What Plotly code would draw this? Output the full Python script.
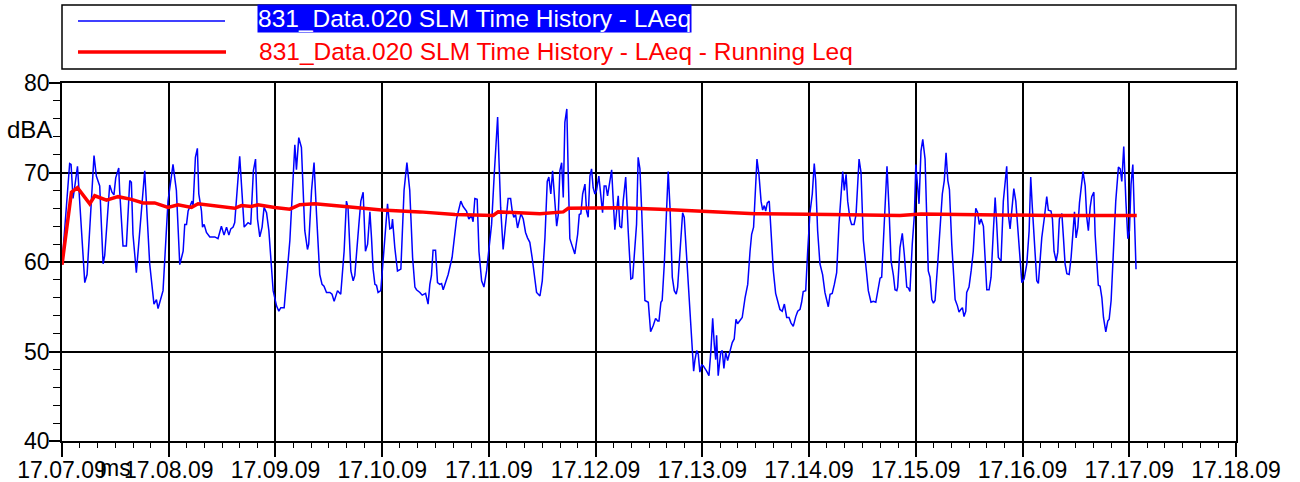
import plotly.graph_objects as go

# ---------------- data ----------------
tick_seconds = [0, 60, 120, 180, 240, 300, 360, 420, 480, 540, 600, 660]
tick_labels = ["17.07.09", "17.08.09", "17.09.09", "17.10.09", "17.11.09", "17.12.09",
               "17.13.09", "17.14.09", "17.15.09", "17.16.09", "17.17.09", "17.18.09"]
y_ticks = [40, 50, 60, 70, 80]
y_labels = ["40", "50", "60", "70", "80"]

series_names = ["831_Data.020 SLM Time History - LAeq",
                "831_Data.020 SLM Time History - LAeq - Running Leq"]
y_unit = "dBA"
x_unit = "ms"

# seconds after 17:07:09
laeq_t = [
    0.0, 4.3, 5.1, 6.2, 7.1, 8.7, 12.8, 14.1, 18.0, 19.3,
    21.2, 23.1, 24.0, 26.8, 28.1, 29.2, 30.2, 31.9, 32.4, 34.3,
    36.2, 38.1, 39.0, 39.9, 41.8, 46.5, 49.3, 51.7, 53.1, 54.0,
    56.8, 59.6, 62.4, 64.3, 66.2, 68.1, 69.0, 70.0, 70.9, 72.4,
    73.1, 73.7, 75.0, 76.1, 76.9, 78.4, 79.0, 79.9, 81.2, 83.1,
    85.9, 87.7, 89.6, 91.1, 92.5, 93.8, 94.9, 96.2, 97.1, 99.9,
    102.4, 103.7, 104.6, 106.1, 107.6, 108.8, 109.9, 111.2, 112.5, 113.6,
    115.0, 116.3, 118.7, 120.6, 121.9, 123.0, 124.9, 128.1, 130.9, 131.8,
    133.1, 134.6, 136.5, 138.0, 138.7, 140.3, 141.7, 143.1, 144.9, 146.2,
    147.3, 148.7, 150.6, 151.8, 153.0, 154.9, 156.7, 158.6, 159.9, 160.8,
    162.4, 163.7, 164.6, 166.9, 168.0, 169.3, 170.6, 171.8, 173.1, 174.0,
    174.9, 175.9, 176.8, 177.7, 179.2, 180.5, 181.5, 183.0, 184.3, 185.3,
    185.8, 187.1, 188.6, 190.5, 192.3, 193.9, 195.5, 197.1, 198.4, 199.3,
    201.2, 202.5, 204.4, 205.8, 206.8, 207.7, 208.6, 210.0, 211.1, 212.4,
    213.4, 214.3, 217.1, 219.3, 221.8, 223.1, 224.2, 225.5, 227.4, 228.7,
    230.2, 231.1, 232.1, 233.4, 234.4, 235.9, 237.2, 238.7, 240.0, 241.5,
    243.0, 244.9, 245.6, 246.6, 248.0, 249.4, 250.8, 252.2, 253.1, 254.0,
    255.0, 256.1, 256.8, 258.0, 259.3, 260.6, 261.7, 263.0, 264.3, 265.5,
    266.8, 268.7, 270.0, 271.5, 272.8, 273.7, 274.8, 275.8, 277.1, 278.1,
    279.0, 279.9, 280.9, 281.8, 282.7, 283.8, 284.6, 285.5, 286.8, 288.3,
    289.9, 290.8, 291.7, 292.7, 294.0, 294.9, 295.8, 296.8, 297.7, 298.6,
    299.6, 300.5, 301.8, 303.0, 303.9, 304.8, 305.8, 306.7, 308.0, 309.0,
    309.9, 310.8, 311.8, 312.7, 313.6, 314.6, 315.5, 316.9, 318.3, 319.8,
    320.8, 322.1, 323.0, 323.9, 324.9, 325.9, 326.8, 327.7, 329.6, 330.9,
    332.4, 333.7, 334.9, 335.6, 336.7, 337.4, 338.6, 339.5, 340.8, 341.8,
    343.1, 344.2, 345.3, 346.1, 347.0, 348.0, 348.9, 349.8, 351.2, 353.0,
    354.3, 355.1, 355.8, 356.8, 357.7, 358.6, 359.6, 360.5, 362.4, 363.7,
    364.8, 365.8, 366.7, 367.5, 368.0, 368.9, 370.3, 371.2, 372.1, 373.1,
    374.2, 375.5, 376.8, 377.9, 378.9, 379.8, 381.1, 382.4, 384.0, 385.5,
    386.8, 387.7, 388.8, 389.6, 390.7, 391.8, 393.0, 393.9, 394.8, 395.6,
    396.5, 397.6, 398.6, 399.9, 401.2, 402.3, 403.6, 404.9, 406.1, 407.4,
    408.7, 409.8, 411.1, 412.5, 413.6, 414.9, 415.8, 416.7, 418.1, 419.2,
    420.5, 421.8, 422.9, 423.7, 424.8, 426.1, 427.6, 428.9, 429.9, 430.8,
    431.8, 433.0, 434.2, 435.5, 436.8, 437.9, 438.9, 439.8, 440.8, 441.7,
    443.0, 443.9, 445.3, 446.4, 448.1, 449.2, 450.5, 451.8, 453.3, 454.8,
    456.1, 457.5, 458.6, 459.9, 460.8, 461.7, 462.7, 463.8, 464.9, 466.1,
    467.4, 468.3, 469.3, 469.8, 471.1, 472.4, 473.5, 474.9, 475.8, 476.7,
    478.0, 479.2, 480.0, 480.9, 481.8, 482.9, 483.9, 485.2, 486.1, 487.0,
    488.0, 489.0, 489.9, 490.8, 492.3, 493.6, 494.9, 496.0, 497.0, 498.0,
    498.9, 500.2, 502.1, 503.4, 504.3, 505.3, 506.2, 507.1, 508.1, 508.6,
    509.9, 511.1, 512.3, 513.7, 514.8, 515.7, 516.7, 518.0, 518.9, 519.9,
    521.2, 522.3, 523.6, 524.6, 525.5, 526.4, 527.9, 529.2, 531.1, 532.0,
    533.0, 533.9, 535.1, 536.2, 537.3, 538.2, 538.6, 539.6, 540.9, 542.4,
    543.7, 544.6, 545.5, 546.7, 548.0, 548.9, 549.9, 550.8, 552.3, 553.6,
    554.5, 556.0, 556.8, 557.7, 558.9, 559.8, 560.7, 562.1, 563.0, 563.9,
    564.9, 566.2, 567.3, 568.3, 569.2, 570.1, 571.1, 572.0, 572.9, 574.0,
    575.2, 576.1, 577.0, 578.0, 578.9, 580.1, 580.8, 581.7, 582.6, 583.6,
    584.6, 585.5, 586.8, 587.9, 588.7, 589.8, 591.1, 592.4, 593.9, 594.9,
    595.8, 596.9, 598.1, 599.2, 600.1, 601.0, 602.0, 602.9, 603.8,
]
laeq_db = [
    59.7, 71.0, 70.9, 67.1, 68.3, 70.7, 57.7, 58.6, 71.9, 69.6,
    68.5, 59.8, 60.7, 68.6, 67.8, 67.5, 69.4, 70.5, 68.0, 61.8,
    61.8, 69.1, 68.9, 63.1, 58.8, 70.2, 59.8, 55.3, 55.8, 54.8,
    56.8, 66.8, 70.9, 68.0, 59.7, 61.2, 64.2, 64.2, 65.7, 66.5,
    66.8, 66.3, 71.7, 72.7, 67.6, 65.7, 63.9, 64.2, 63.3, 62.8,
    62.8, 62.6, 64.0, 63.0, 63.9, 63.0, 63.7, 63.9, 64.4, 71.8,
    63.9, 64.2, 64.4, 64.2, 70.2, 71.5, 64.8, 62.8, 63.9, 66.1,
    65.5, 63.5, 56.8, 55.1, 54.5, 54.9, 54.9, 62.4, 73.1, 70.3,
    73.9, 72.8, 63.5, 61.4, 62.0, 68.0, 71.1, 65.3, 58.6, 57.5,
    57.3, 56.6, 56.6, 56.4, 55.6, 56.8, 56.4, 61.2, 66.8, 66.1,
    59.0, 57.9, 58.5, 64.2, 66.8, 67.8, 61.2, 62.0, 65.6, 62.7,
    59.2, 57.5, 57.4, 56.6, 56.8, 60.1, 63.1, 66.5, 63.7, 63.8,
    64.8, 61.6, 59.0, 59.2, 68.0, 71.1, 68.0, 60.5, 57.2, 56.9,
    56.6, 56.3, 56.5, 55.3, 57.5, 58.5, 61.3, 61.3, 57.7, 57.5,
    57.6, 56.9, 58.6, 60.5, 64.8, 66.1, 66.8, 66.2, 65.7, 64.8,
    65.2, 64.5, 67.1, 67.0, 61.2, 57.9, 57.2, 59.0, 61.4, 64.2,
    69.8, 76.2, 71.7, 66.1, 61.4, 64.2, 67.1, 67.1, 65.7, 65.0,
    65.3, 63.8, 64.4, 65.4, 64.8, 63.3, 62.7, 62.2, 60.5, 58.3,
    56.6, 56.2, 57.9, 62.7, 69.0, 69.5, 67.6, 70.2, 66.8, 64.0,
    65.3, 70.2, 71.1, 67.2, 75.6, 77.1, 69.8, 62.6, 61.8, 60.9,
    63.1, 65.3, 65.4, 67.6, 68.7, 65.7, 65.0, 69.6, 70.4, 68.3,
    67.6, 68.0, 69.6, 67.2, 65.5, 68.5, 68.5, 67.4, 69.4, 70.3,
    66.8, 63.6, 65.7, 67.4, 64.0, 63.8, 66.8, 69.5, 63.5, 58.1,
    58.2, 61.6, 64.2, 71.7, 70.4, 65.7, 60.1, 55.7, 55.5, 52.2,
    52.9, 53.7, 53.4, 53.4, 55.5, 55.7, 59.8, 64.2, 70.1, 66.1,
    58.3, 56.8, 56.4, 57.2, 60.1, 62.7, 65.5, 65.0, 60.5, 53.4,
    50.1, 47.8, 49.0, 50.1, 49.7, 47.7, 48.5, 48.4, 47.8, 47.3,
    50.1, 53.7, 50.8, 49.1, 51.8, 47.3, 49.9, 50.1, 48.1, 49.9,
    49.0, 49.9, 51.0, 51.4, 53.6, 53.1, 53.4, 53.8, 56.0, 57.5,
    61.2, 63.1, 63.9, 67.2, 71.5, 69.8, 66.8, 65.8, 66.3, 65.7,
    66.6, 66.8, 63.9, 59.0, 56.5, 55.5, 54.7, 54.5, 55.3, 53.8,
    53.8, 53.2, 52.8, 53.9, 54.5, 54.7, 55.5, 56.7, 56.8, 61.2,
    65.5, 67.6, 71.0, 69.1, 63.5, 59.8, 58.6, 56.6, 55.7, 55.0,
    56.4, 56.5, 57.5, 58.8, 64.2, 68.0, 70.1, 68.0, 69.8, 66.8,
    64.8, 64.2, 64.2, 65.3, 71.5, 70.0, 62.4, 59.8, 56.8, 55.5,
    55.6, 55.5, 56.8, 58.2, 58.3, 62.4, 66.1, 70.7, 66.1, 60.1,
    58.5, 56.9, 56.8, 57.2, 61.6, 63.2, 60.9, 57.2, 57.1, 56.7,
    62.0, 65.3, 70.9, 68.3, 66.5, 72.4, 73.7, 71.5, 65.3, 59.0,
    58.3, 55.8, 55.4, 55.7, 59.8, 64.2, 67.6, 69.1, 72.2, 69.1,
    68.1, 62.0, 55.8, 55.1, 54.4, 54.7, 54.9, 53.9, 54.5, 56.6,
    57.2, 59.0, 61.2, 66.0, 65.5, 64.2, 64.8, 64.0, 60.5, 56.9,
    56.9, 58.3, 63.5, 67.2, 64.2, 60.5, 60.1, 66.8, 70.7, 65.3,
    63.7, 66.1, 68.2, 66.8, 63.9, 60.7, 60.6, 57.7, 58.1, 59.8,
    63.5, 69.5, 66.1, 61.6, 57.9, 57.6, 59.8, 62.7, 65.0, 67.3,
    65.8, 65.7, 64.8, 61.2, 60.1, 61.1, 64.8, 65.4, 62.7, 59.8,
    58.7, 58.6, 60.5, 63.5, 65.6, 62.7, 63.9, 66.6, 68.0, 70.1,
    68.5, 65.0, 63.5, 66.1, 67.3, 67.8, 63.1, 60.5, 57.4, 57.3,
    56.0, 53.8, 52.2, 53.4, 53.6, 55.7, 60.9, 66.8, 70.6, 70.4,
    69.0, 72.9, 66.8, 62.6, 63.5, 68.7, 70.9, 64.2, 59.2,
]

running_t = [0.0, 5.3, 8.7, 15.6, 18.4, 25.0, 31.5, 39.0, 45.6, 52.1,
             59.6, 65.2, 72.8, 76.5, 97.1, 100.9, 106.5, 110.2, 119.6, 128.1,
             133.7, 142.1, 159.0, 179.6, 201.2, 220.9, 242.4, 245.2, 268.7, 281.8,
             284.6, 312.7, 336.2, 359.6, 389.6, 431.8, 471.1, 482.9, 527.4, 555.5,
             604.2]
running_db = [59.7, 67.8, 68.3, 66.5, 67.4, 66.9, 67.3, 67.0, 66.6, 66.6,
              66.1, 66.4, 66.1, 66.5, 66.0, 66.3, 66.2, 66.4, 66.1, 65.9,
              66.4, 66.5, 66.2, 65.8, 65.6, 65.3, 65.2, 65.6, 65.4, 65.6,
              66.0, 66.05, 65.9, 65.7, 65.4, 65.3, 65.2, 65.35, 65.25, 65.2,
              65.2]

# ---------------- figure ----------------
FONT = "Liberation Sans, Arial, sans-serif"
BLUE = "#0000FF"
RED = "#FF0000"

fig = go.Figure()
fig.add_trace(go.Scatter(x=laeq_t, y=laeq_db, mode="lines", name=series_names[0],
                         line=dict(color=BLUE, width=1.5), showlegend=False))
fig.add_trace(go.Scatter(x=running_t, y=running_db, mode="lines", name=series_names[1],
                         line=dict(color=RED, width=3.5), showlegend=False))

W, H = 1300, 482
ML, MR, MT, MB = 62, 64, 83, 41
pw, ph = W - ML - MR, H - MT - MB


def px(x):
    return (x - ML) / pw


def py(y):
    return (H - MB - y) / ph


fig.update_layout(
    width=W, height=H,
    margin=dict(l=ML, r=MR, t=MT, b=MB, pad=0, autoexpand=False),
    paper_bgcolor="white", plot_bgcolor="white",
    font=dict(family=FONT, size=23, color="black"),
    xaxis=dict(
        range=[tick_seconds[0], tick_seconds[-1]], automargin=False,
        tickmode="array", tickvals=tick_seconds, ticktext=tick_labels,
        ticks="outside", ticklen=14, tickwidth=1.5, tickcolor="black",
        ticklabelstandoff=-6,
        showgrid=True, gridcolor="black", gridwidth=1.5,
        showline=True, linecolor="black", linewidth=1.5, mirror=True,
        zeroline=False,
        tickfont=dict(family=FONT, size=23, color="black"),
        minor=dict(tickmode="array", tickvals=list(range(0, 661, 10)),
                   ticks="outside", ticklen=5, tickcolor="black", tickwidth=1,
                   showgrid=False),
    ),
    yaxis=dict(
        range=[40, 80], automargin=False,
        tickmode="array", tickvals=y_ticks, ticktext=y_labels,
        ticks="outside", ticklen=11, tickwidth=1.5, tickcolor="black",
        ticklabelstandoff=-5,
        showgrid=True, gridcolor="black", gridwidth=1.5,
        showline=True, linecolor="black", linewidth=1.5, mirror=True,
        zeroline=False,
        tickfont=dict(family=FONT, size=23, color="black"),
        minor=dict(tickmode="array", tickvals=list(range(40, 81, 2)),
                   ticks="outside", ticklen=7, tickcolor="black", tickwidth=1,
                   showgrid=False),
    ),
)

# custom legend box
shapes = [
    dict(type="rect", xref="paper", yref="paper",
         x0=px(62), x1=px(1236), y0=py(69), y1=py(5),
         line=dict(color="black", width=1.5), fillcolor="white", layer="above"),
    dict(type="line", xref="paper", yref="paper",
         x0=px(78), x1=px(225), y0=py(21), y1=py(21),
         line=dict(color=BLUE, width=1.5)),
    dict(type="line", xref="paper", yref="paper",
         x0=px(78), x1=px(226), y0=py(52), y1=py(52),
         line=dict(color=RED, width=3.5)),
]
fig.update_layout(shapes=shapes)

annotations = [
    dict(text=series_names[0], xref="paper", yref="paper", x=px(257), y=py(19),
         xanchor="left", yanchor="middle", showarrow=False,
         font=dict(family=FONT, size=24.5, color="white"),
         bgcolor=BLUE, borderpad=0),
    dict(text=series_names[1], xref="paper", yref="paper", x=px(257), y=py(52),
         xanchor="left", yanchor="middle", showarrow=False,
         font=dict(family=FONT, size=24.5, color=RED)),
    dict(text=y_unit, xref="paper", yref="paper", x=px(54), y=py(129),
         xanchor="right", yanchor="middle", showarrow=False,
         font=dict(family=FONT, size=24, color="black")),
    dict(text=x_unit, xref="paper", yref="paper", x=px(115), y=py(468),
         xanchor="center", yanchor="middle", showarrow=False,
         font=dict(family=FONT, size=23, color="black")),
]
fig.update_layout(annotations=annotations)

fig.write_html("out.html", config={"displayModeBar": False},
               post_script="document.body.style.margin='0';")
